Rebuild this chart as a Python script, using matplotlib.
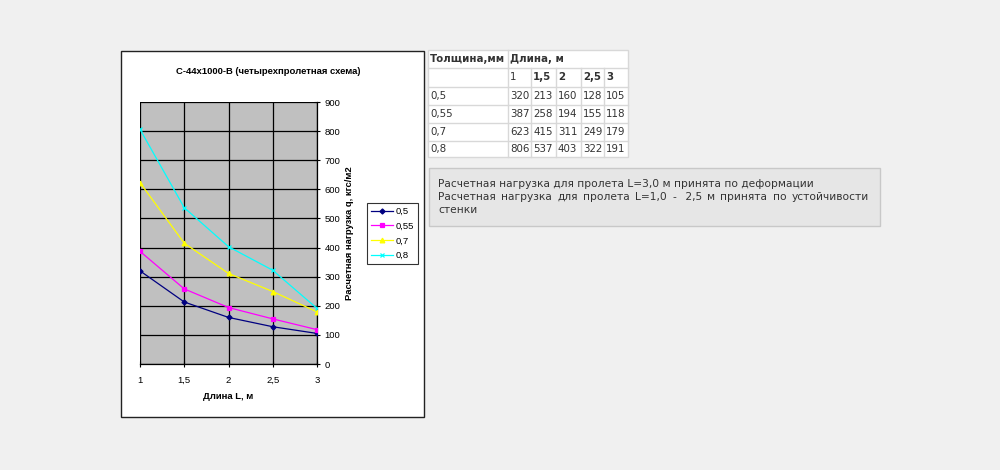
import matplotlib.pyplot as plt
from matplotlib.patches import Rectangle

# data from the table / chart
lengths = [1, 1.5, 2, 2.5, 3]
length_labels = ['1', '1,5', '2', '2,5', '3']
thickness = ['0,5', '0,55', '0,7', '0,8']
q_05 = [320, 213, 160, 128, 105]
q_055 = [387, 258, 194, 155, 118]
q_07 = [623, 415, 311, 249, 179]
q_08 = [806, 537, 403, 322, 191]
series = [q_05, q_055, q_07, q_08]
yticks = [0, 100, 200, 300, 400, 500, 600, 700, 800, 900]

note1 = 'Расчетная нагрузка для пролета L=3,0 м принята по деформации'
note2 = ['Расчетная', 'нагрузка', 'для', 'пролета', 'L=1,0', '-', ' 2,5', 'м', 'принята', 'по', 'устойчивости']
note3 = 'стенки'

W, H = 1000, 470


def box(x0, y0, x1, y1):
    # pixel box (top-left origin) -> figure fraction
    return [x0 / W, 1 - y1 / H, (x1 - x0) / W, (y1 - y0) / H]


plt.rcParams['font.family'] = ['Liberation Sans', 'DejaVu Sans']
fig = plt.figure(figsize=(10, 4.7), dpi=100)
fig.patch.set_facecolor('#f0f0f0')

# overlay axes for boxes and texts in pixel coords
bg = fig.add_axes([0, 0, 1, 1])
bg.set_xlim(0, W)
bg.set_ylim(H, 0)
bg.axis('off')
bg.set_zorder(0)

# chart frame
bg.add_patch(Rectangle((120.5, 50.5), 303, 366, facecolor='white', edgecolor='#222222', lw=1))
bg.text(268, 71, 'С-44х1000-В (четырехпролетная схема)', ha='center', va='center',
        fontsize=6.8, fontweight='bold')

ax = fig.add_axes(box(140, 102, 317, 364))
ax.set_zorder(1)
ax.set_facecolor('#c0c0c0')
styles = [('#000080', 'D', 2.6), ('#ff00ff', 's', 3.0), ('#ffff00', '^', 3.4), ('#00ffff', 'x', 3.4)]
for vals, lab, (c, m, ms) in zip(series, thickness, styles):
    ax.plot(lengths, vals, color=c, marker=m, markersize=ms, lw=0.9, label=lab,
            markeredgewidth=0.9, zorder=3)
ax.set_xlim(1, 3)
ax.set_ylim(0, 900)
ax.set_xticks(lengths)
ax.set_xticklabels(length_labels)
ax.set_yticks(yticks)
ax.yaxis.tick_right()
ax.yaxis.set_label_position('right')
ax.grid(True, color='black', lw=0.9)
ax.tick_params(axis='both', labelsize=6.8, length=5, width=0.8, direction='inout')
ax.tick_params(axis='y', pad=3)
ax.tick_params(axis='x', pad=6)
for s in ['top', 'left']:
    ax.spines[s].set_visible(False)
ax.spines['bottom'].set_linewidth(0.9)
ax.spines['right'].set_linewidth(0.9)
ax.set_xlabel('Длина L, м', fontsize=6.8, fontweight='bold', labelpad=5)
ax.set_ylabel('Расчетная нагрузка q, кгс/м2', fontsize=6.8, fontweight='bold', labelpad=3)
leg = ax.legend(loc='upper left', bbox_to_anchor=(1.28, 0.615), fontsize=6.8, frameon=True,
                fancybox=False, edgecolor='black', handlelength=2.4, borderpad=0.45,
                labelspacing=0.6, handletextpad=0.2, borderaxespad=0)
leg.get_frame().set_linewidth(0.8)

# table
cols = [428, 508, 531, 556, 581, 604, 628]
rows = [50, 68, 87, 105, 123, 141, 157]
tc = '#333333'
ec = '#d8d8d8'
tfs = 7.4
bg.add_patch(Rectangle((cols[0], rows[0]), cols[-1] - cols[0], rows[-1] - rows[0],
                       facecolor='white', edgecolor=ec, lw=1))
for y in rows[1:-1]:
    bg.plot([cols[0], cols[-1]], [y, y], color=ec, lw=1)
for x in cols[1:-1]:
    bg.plot([x, x], [rows[1], rows[-1]], color=ec, lw=1)
bg.plot([cols[1], cols[1]], [rows[0], rows[1]], color=ec, lw=1)
bg.text(cols[0] + 2, (rows[0] + rows[1]) / 2, 'Толщина,мм', fontsize=tfs, fontweight='bold',
        color=tc, va='center', family='DejaVu Sans')
bg.text(cols[1] + 2, (rows[0] + rows[1]) / 2, 'Длина, м', fontsize=tfs, fontweight='bold',
        color=tc, va='center', family='DejaVu Sans')
for j, lab in enumerate(length_labels):
    bg.text(cols[j + 1] + 2, (rows[1] + rows[2]) / 2, lab, fontsize=tfs,
            fontweight='normal' if j == 0 else 'bold', color=tc, va='center', family='DejaVu Sans')
for i, (t, vals) in enumerate(zip(thickness, series)):
    yc = (rows[i + 2] + rows[i + 3]) / 2
    bg.text(cols[0] + 2, yc, t, fontsize=tfs, color=tc, va='center', family='DejaVu Sans')
    for j, v in enumerate(vals):
        bg.text(cols[j + 1] + 2, yc, str(v), fontsize=tfs, color=tc, va='center', family='DejaVu Sans')

# note box
nfs = 7.7
bg.add_patch(Rectangle((428.5, 167.5), 451, 58, facecolor='#e6e6e6', edgecolor='#c8c8c8', lw=1))
bg.text(438, 184, note1, fontsize=nfs, color=tc, va='center', family='DejaVu Sans')
bg.text(438, 210, note3, fontsize=nfs, color=tc, va='center', family='DejaVu Sans')

# justified second line
renderer = fig.canvas.get_renderer()
words = [bg.text(0, 197, w, fontsize=nfs, color=tc, va='center', family='DejaVu Sans') for w in note2]
widths = [t.get_window_extent(renderer).width for t in words]
left, right = 438, 869
gap = (right - left - sum(widths)) / (len(words) - 1)
x = left
for t, w in zip(words, widths):
    t.set_x(x)
    x += w + gap

fig.savefig('out.png', dpi=100, facecolor=fig.get_facecolor())
